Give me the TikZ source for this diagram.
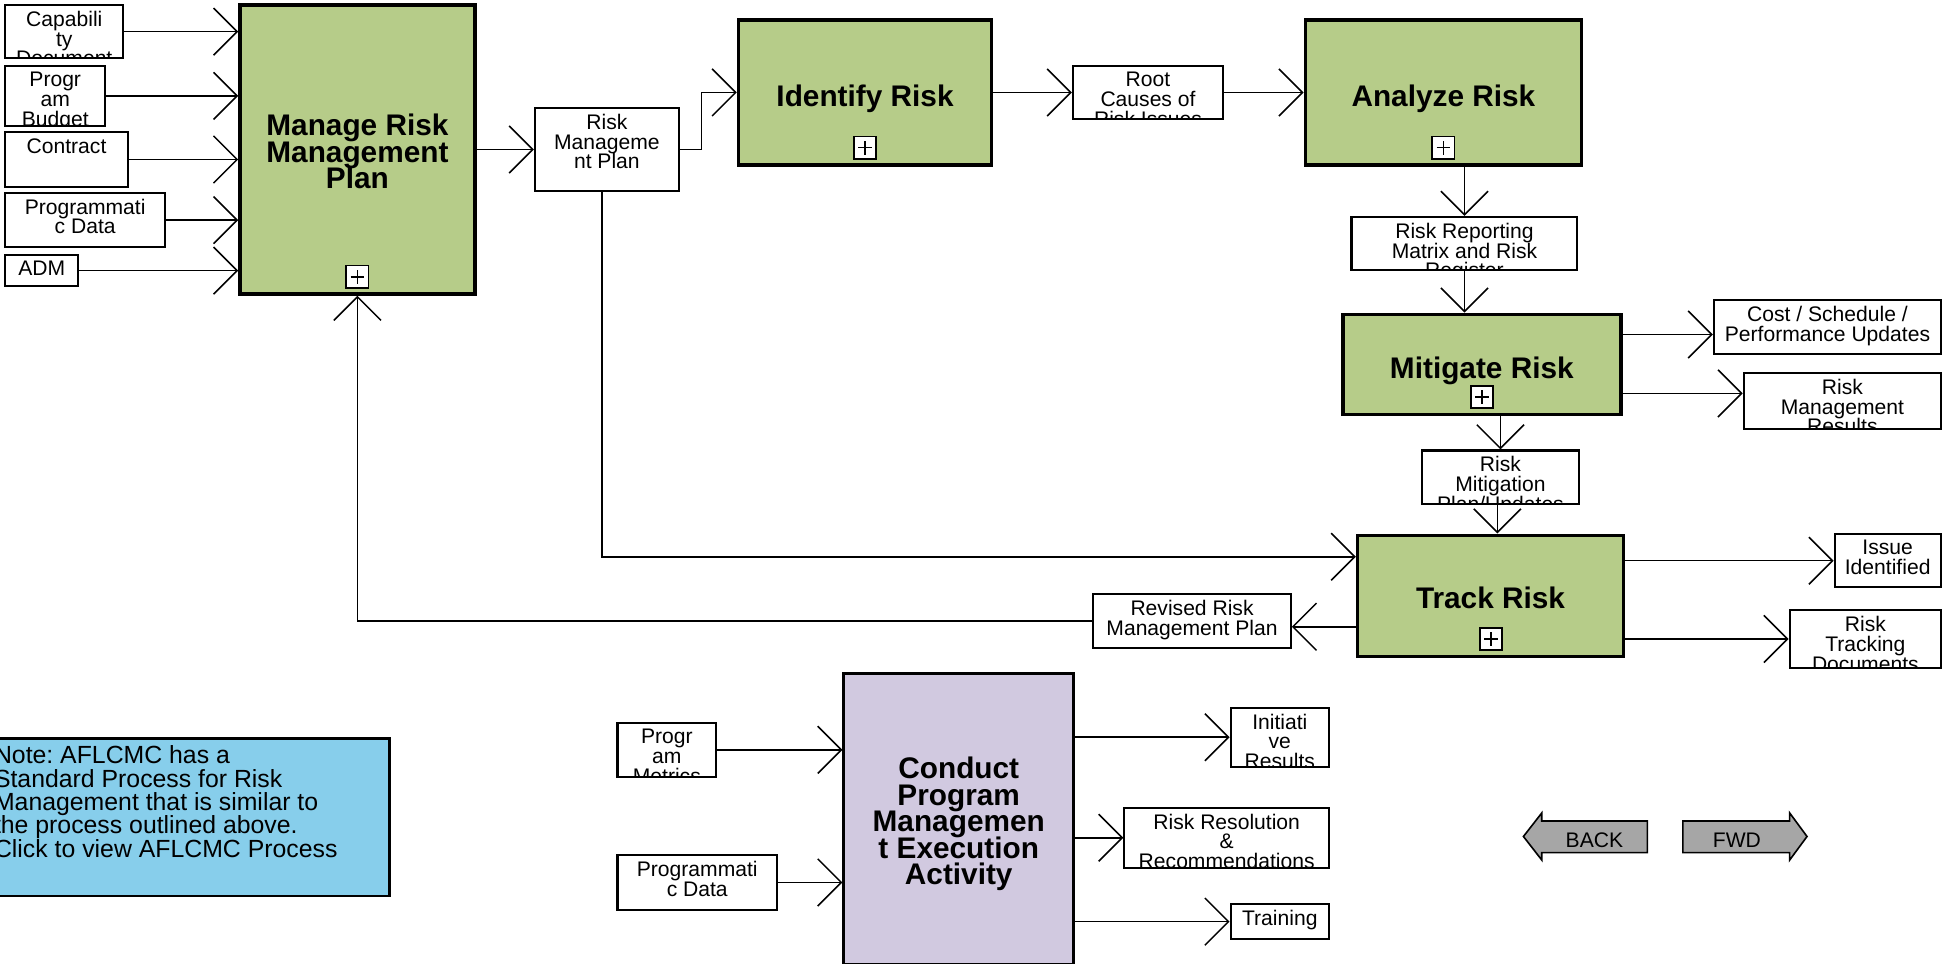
\documentclass[tikz,border=0pt]{standalone}
\usepackage{fontspec}
\setmainfont{Liberation Sans}
\usetikzlibrary{arrows.meta,calc}
\frenchspacing
\definecolor{actgreen}{RGB}{182,204,137}
\definecolor{actlav}{RGB}{209,201,224}
\definecolor{noteblue}{RGB}{135,206,235}
\definecolor{navgray}{RGB}{166,166,166}
\newcommand\tightls{\lineskiplimit=-20pt\relax}
\tikzset{
  flow/.style={line width=1.25pt, -{Straight Barb[length=19pt,width=38pt,line width=1.25pt]}},
  actbox/.style={draw, line width=2.7pt, fill=actgreen, inner sep=0pt},
  lavbox/.style={draw, line width=2.5pt, fill=actlav, inner sep=0pt},
  acttext/.style={font={\bfseries\fontsize{24}{21.3}\selectfont\tightls}, align=center, inner sep=0pt},
  lblbox/.style={draw, line width=1.7pt, fill=white, inner sep=0pt},
  lbltext/.style={font={\fontsize{17}{16}\selectfont\tightls}, align=center, inner sep=0pt},
  plusbox/.style={draw, line width=1.4pt, fill=white, minimum size=18pt, inner sep=0pt},
  plusbar/.style={line width=1.2pt},
  notebox/.style={draw, line width=2.2pt, fill=noteblue, inner sep=0pt},
  notetext/.style={font={\fontsize{20}{18.8}\selectfont\tightls}, align=left, inner sep=0pt},
  navarrow/.style={draw, line width=1.3pt, fill=navgray, line join=miter},
  navtext/.style={font={\fontsize{17}{16}\selectfont}, inner sep=0pt},
}
% label box with text clipped to its inside
\newcommand\lblnode[6]{%
  \node[lblbox, minimum width=#4pt, minimum height=#5pt] (#1) at (#2,#3) {};
  \begin{scope}
    \clip ([shift={(1.7pt,1.7pt)}]#1.south west) rectangle ([shift={(-1.7pt,-1.7pt)}]#1.north east);
    \node[lbltext, anchor=north] (#1-t) at ([yshift=-5.5pt]#1.north) {#6};
  \end{scope}}
\newcommand\plusicon[3]{%
  \node[plusbox] (#1) at (#2,#3) {};
  \draw[plusbar] ([xshift=-5.5pt]#1.center) -- ([xshift=5.5pt]#1.center);
  \draw[plusbar] ([yshift=-5.5pt]#1.center) -- ([yshift=5.5pt]#1.center);}

\begin{document}
\begin{tikzpicture}[x=1pt,y=-1pt]
\useasboundingbox (0,0) rectangle (1568,776);
\clip (0,0) rectangle (1568,776);
\fill[white] (0,0) rectangle (1568,776);

% Manage Risk Management Plan
\node[actbox, minimum width=189.4pt, minimum height=233pt] (mrmp) at (288,120.4) {};
\node[acttext] (mrmp-t) at (288,122) {Manage Risk\\Management\\Plan};
\plusicon{mrmp-p}{288}{223}

\lblnode{cap}{51.8}{25.5}{95}{43}{Capabili\\ty\\Document}
\lblnode{pb}{44.5}{77.3}{80.3}{48.6}{Progr\\am\\Budget}
\lblnode{con}{53.6}{128.5}{98.7}{43.7}{Contract}
\lblnode{pd}{68.6}{177.3}{128.7}{44}{Programmati\\c Data}
\lblnode{adm}{33.6}{218}{58.7}{24.7}{ADM}

\lblnode{rmp}{489}{120.4}{116}{67}{Risk\\Manageme\\nt Plan}

% Identify Risk
\node[actbox, minimum width=204pt, minimum height=117pt] (idr) at (697,74.5) {};
\node[acttext] (idr-t) at (697,79.4) {Identify Risk};
\plusicon{idr-p}{697}{119}

\lblnode{rc}{925}{74.5}{121}{43}{Root\\Causes of\\Risk Issues}

% Analyze Risk
\node[actbox, minimum width=222.5pt, minimum height=117pt] (ana) at (1163,74.5) {};
\node[acttext] (ana-t) at (1163,79.4) {Analyze Risk};
\plusicon{ana-p}{1163}{119}

\lblnode{rr}{1180}{196}{182}{42.5}{Risk Reporting\\Matrix and Risk\\Register}

% Mitigate Risk
\node[actbox, minimum width=224pt, minimum height=80.5pt] (mit) at (1194,293.5) {};
\node[acttext] (mit-t) at (1194,298.5) {Mitigate Risk};
\plusicon{mit-p}{1194}{320}

\lblnode{csp}{1472.5}{263.5}{183}{43.5}{Cost / Schedule /\\Performance Updates}
\lblnode{rmr}{1484.5}{323}{159}{45}{Risk\\Management\\Results}
\lblnode{rmit}{1209}{384.7}{126}{43.4}{Risk\\Mitigation\\Plan/Updates}

% Track Risk
\node[actbox, minimum width=214.5pt, minimum height=97.5pt] (trk) at (1201,480) {};
\node[acttext] (trk-t) at (1201,482) {Track Risk};
\plusicon{trk-p}{1201.5}{515}

\lblnode{iss}{1521}{451.8}{85.5}{43}{Issue\\Identified}
\lblnode{rtd}{1503}{514.8}{122}{46.5}{Risk\\Tracking\\Documents}
\lblnode{rrmp}{960.5}{500.4}{159}{43}{Revised Risk\\Management Plan}

% Conduct Program Management Execution Activity
\node[lavbox, minimum width=185pt, minimum height=234.4pt] (cpm) at (772.5,659.8) {};
\node[acttext] (cpm-t) at (772.5,664) {Conduct\\Program\\Managemen\\t Execution\\Activity};

\lblnode{pm}{537.3}{604.2}{79.5}{43.5}{Progr\\am\\Metrics}
\lblnode{pd2}{561.8}{711}{128.5}{43.8}{Programmati\\c Data}
\lblnode{ini}{1031.2}{594}{79.2}{47.5}{Initiati\\ve\\Results}
\lblnode{rres}{988.4}{675}{164.8}{48.3}{Risk Resolution\\\&\\Recommendations}
\lblnode{trn}{1031.2}{742.6}{79.2}{27.7}{Training}

% Note
\node[notebox, minimum width=334pt, minimum height=127pt] (note) at (147,658.5) {};
\node[notetext, anchor=north west] (note-t) at (-5,600.8) {Note: AFLCMC has a\\Standard Process for Risk\\Management that is similar to\\the process outlined above.\\Click to view AFLCMC Process};

% navigation arrows
\draw[navarrow] (1227.5,674) -- (1242.3,655) -- (1242.3,661.5) -- (1327.4,661.5) -- (1327.4,687) -- (1242.3,687) -- (1242.3,693) -- cycle;
\node[navtext] (back) at (1284.7,676.7) {BACK};
\draw[navarrow] (1456,674) -- (1442,655) -- (1442,661.5) -- (1356,661.5) -- (1356,687) -- (1442,687) -- (1442,693) -- cycle;
\node[navtext] (fwd) at (1399.5,676.7) {FWD};

% connectors
\foreach \n in {cap,pb,con,pd,adm} \draw[flow] (\n.east) -- (\n.east -| mrmp.west);
\draw[flow] (mrmp.east |- rmp.west) -- (rmp.west);
\draw[flow] (rmp.east) -- ++(17.5,0) |- (idr.west);
\draw[flow] (idr.east |- rc.west) -- (rc.west);
\draw[flow] (rc.east) -- (rc.east -| ana.west);
\draw[flow] (rr.north |- ana.south) -- (rr.north);
\draw[flow] (rr.south) -- (rr.south |- mit.north);
\coordinate (cspin) at ($(csp.west)+(0,6)$);
\draw[flow] (mit.east |- cspin) -- (cspin);
\coordinate (rmrin) at ($(rmr.west)+(0,-6)$);
\draw[flow] (mit.east |- rmrin) -- (rmrin);
\draw[flow] (mit.south -| rmit.north) -- (rmit.north);
\coordinate (rmitout) at ($(rmit.south)+(-2.5,0)$);
\draw[flow] (rmitout) -- (rmitout |- trk.north);
\draw[flow] (trk.east |- iss.west) -- (iss.west);
\draw[flow] (trk.east |- rtd.west) -- (rtd.west);
\coordinate (rrin) at ($(rrmp.east)+(0,4.6)$);
\draw[flow] (trk.west |- rrin) -- (rrin);
\draw[flow] (rrmp.west) -| (mrmp.south);
\coordinate (trkin) at ($(trk.west)+(0,-31.4)$);
\coordinate (rmpout) at ($(rmp.south)+(-4,0)$);
\draw[flow] (rmpout) |- (trkin);
\draw[flow] (pm.east) -- (pm.east -| cpm.west);
\draw[flow] (pd2.east) -- (pd2.east -| cpm.west);
\draw[flow] (cpm.east |- ini.west) -- (ini.west);
\draw[flow] (cpm.east |- rres.west) -- (rres.west);
\draw[flow] (cpm.east |- trn.west) -- (trn.west);
\end{tikzpicture}
\end{document}
